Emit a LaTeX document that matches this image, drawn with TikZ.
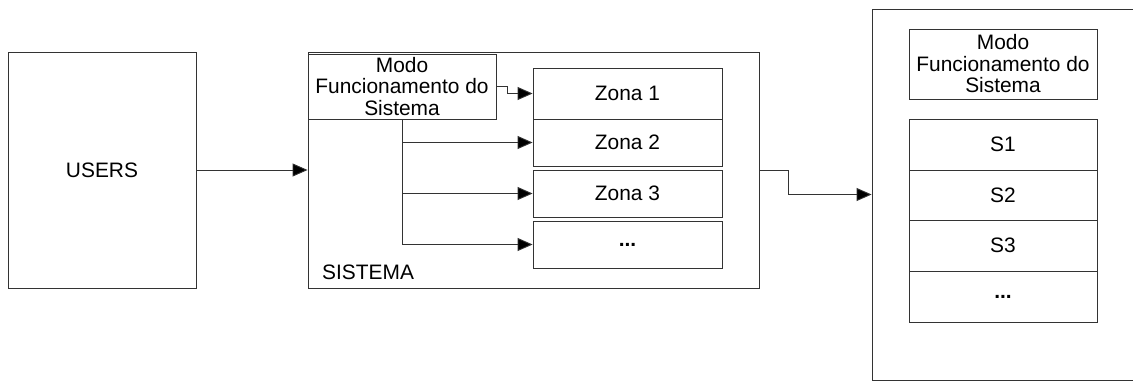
\documentclass[tikz,border=0pt]{standalone}
\usepackage{fontspec}
\setmainfont{Liberation Sans}
\usetikzlibrary{arrows.meta}
\tikzset{
  box/.style={draw=black!80, line width=0.9pt, rectangle, inner sep=0pt,
    align=center, font=\fontsize{20.9}{21.5}\selectfont},
  caption/.style={inner sep=0pt, font=\fontsize{20.9}{21.5}\selectfont},
  link/.style={draw=black!80, line width=0.9pt,
    -{Triangle[length=15pt,width=13pt,fill=black]}}
}
\begin{document}
\begin{tikzpicture}[x=1pt,y=-1pt]
\useasboundingbox (0,0) rectangle (1133,381);
% users
\node[box, minimum width=188pt, minimum height=236pt] (users) at (102,170) {USERS};
% system container with its inner blocks
\node[box, minimum width=451pt, minimum height=236pt] (sistema) at (533.5,170) {};
\node[caption, anchor=west] (lblsis) at (322,272) {SISTEMA};
\node[box, fill=white, minimum width=188pt, minimum height=65pt] (modo1) at (402,86.5) {Modo\\Funcionamento do\\Sistema};
\node[box, minimum width=189pt, minimum height=51pt] (zona1) at (627.5,93.5) {Zona 1};
\node[box, minimum width=189pt, minimum height=47pt] (zona2) at (627.5,142.5) {Zona 2};
\node[box, minimum width=189pt, minimum height=47pt] (zona3) at (627.5,193.5) {Zona 3};
\node[box, minimum width=189pt, minimum height=47pt] (zonad) at (627.5,244.5) {\textbf{...}};
% output container (runs past the right edge)
\node[box, minimum width=300pt, minimum height=371pt] (outer) at (1022,194.5) {};
\node[box, minimum width=188pt, minimum height=70pt] (modo2) at (1003,64) {Modo\\Funcionamento do\\Sistema};
\node[box, minimum width=188pt, minimum height=51pt] (s1) at (1003,144.5) {S1};
\node[box, minimum width=188pt, minimum height=50pt] (s2) at (1003,195) {S2};
\node[box, minimum width=188pt, minimum height=51pt] (s3) at (1003,245.5) {S3};
\node[box, minimum width=188pt, minimum height=51pt] (sd) at (1003,296.5) {\textbf{...}};
% connectors
\draw[link] (users.east) -- (sistema.west);
\draw[link] ([yshift=0.5pt]modo1.east) -- ++(11,0) |- (zona1.west);
\draw[link] (modo1.south) |- (zona2.west);
\draw[link] (modo1.south) |- (zona3.west);
\draw[link] (modo1.south) |- (zonad.west);
\draw[link] (sistema.east) -- ++(29,0) |- (outer.west);
\end{tikzpicture}
\end{document}
